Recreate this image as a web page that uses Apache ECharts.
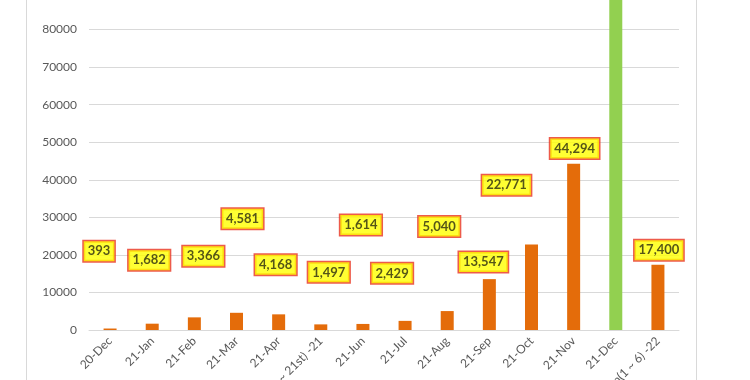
<!DOCTYPE html>
<html>
<head>
<meta charset="utf-8">
<script src="https://cdn.jsdelivr.net/npm/echarts@6/dist/echarts.min.js"></script>
<style>
html,body{margin:0;padding:0;background:#fff;}
#chart{width:750px;height:380px;}
</style>
</head>
<body>
<div id="chart"></div>
<script>
// ---- data ----
const categories = ['20-Dec','21-Jan','21-Feb','21-Mar','21-Apr','May(1 ~ 21st) -21','21-Jun','21-Jul','21-Aug','21-Sep','21-Oct','21-Nov','21-Dec','Jan(1 ~ 6) -22'];
const cases = [393, 1682, 3366, 4581, 4168, 1497, 1614, 2429, 5040, 13547, 22771, 44294, 100000, 17400];
const showLabel = [true,true,true,true,true,true,true,true,true,true,true,true,false,true];
const yTicks = { min: 0, max: 90000, interval: 10000 };

// ---- layout of the manually-placed data labels (value-space height, px x-shift) ----
const labelHeight = [20970, 18580, 19640, 29600, 17350, 15360, 27950, 15090, 27550, 18100, 38540, 48360, 0, 21240];
const labelShift  = [-11, -3, 9, 6, -3, 8, -2, -13, -8, -6, -25, 1, 0, 1];

const ORANGE = '#E46C0A';
const GREEN = '#92D050';
const HIGHLIGHT = '21-Dec';

const chart = echarts.init(document.getElementById('chart'), null, {renderer:'canvas'});

const barData = cases.map((v, i) => ({
  value: v,
  itemStyle: { color: categories[i] === HIGHLIGHT ? GREEN : ORANGE }
}));

const labelData = [];
cases.forEach((v, i) => {
  if (!showLabel[i]) return;
  labelData.push({
    value: [i, labelHeight[i]],
    raw: v,
    label: { offset: [labelShift[i], 0] }
  });
});

chart.setOption({
  animation: false,
  backgroundColor: '#fff',
  grid: { left: 89, right: 71, top: -8, bottom: 50, containLabel: false, outerBoundsMode: 'none' },
  graphic: [
    { type: 'line', shape: { x1: 26.5, y1: 0, x2: 26.5, y2: 380 }, style: { stroke: '#D9D9D9', lineWidth: 1 } },
    { type: 'line', shape: { x1: 696.5, y1: 0, x2: 696.5, y2: 380 }, style: { stroke: '#D9D9D9', lineWidth: 1 } }
  ],
  xAxis: {
    type: 'category',
    data: categories,
    axisLine: { show: true, lineStyle: { color: '#D9D9D9', width: 1 } },
    axisTick: { show: false },
    axisLabel: {
      rotate: 45, interval: 0, margin: 9,
      color: '#595959', fontFamily: 'Lato', fontSize: 12
    }
  },
  yAxis: {
    type: 'value',
    min: yTicks.min, max: yTicks.max, interval: yTicks.interval,
    axisLine: { show: false },
    axisTick: { show: false },
    splitLine: { lineStyle: { color: '#D9D9D9', width: 1 } },
    axisLabel: { margin: 12, color: '#595959', fontFamily: 'Lato', fontSize: 12, formatter: v => String(v) }
  },
  series: [
    {
      type: 'bar',
      data: barData,
      barWidth: 13,
      clip: true
    },
    {
      type: 'scatter',
      data: labelData,
      symbolSize: 0,
      silent: true,
      z: 5,
      label: {
        show: true,
        position: 'inside',
        formatter: p => p.data.raw.toLocaleString('en-US'),
        color: '#2B2B10',
        fontFamily: 'Lato',
        fontWeight: 'bold',
        fontSize: 13,
        backgroundColor: '#FFFF00',
        borderColor: '#E8321E',
        borderWidth: 1.5,
        padding: [4, 4, 3, 4]
      }
    }
  ]
});
</script>
</body>
</html>
